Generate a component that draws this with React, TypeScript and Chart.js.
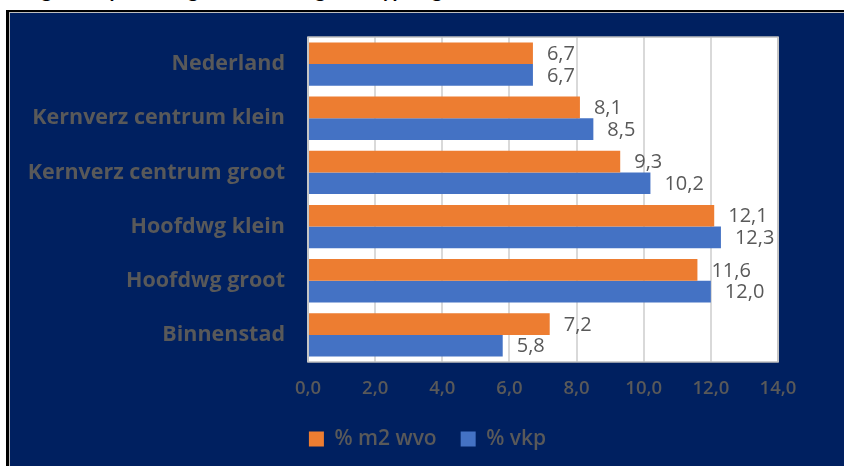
import React, { useEffect, useRef } from "react";
import { Chart, registerables } from "chart.js";

Chart.register(...registerables);

const titleText = "Leegstandspercentage naar winkelgebiedtypologie";
const categories = [
  "Nederland",
  "Kernverz centrum klein",
  "Kernverz centrum groot",
  "Hoofdwg klein",
  "Hoofdwg groot",
  "Binnenstad",
];
const seriesNames = ["% m2 wvo", "% vkp"];
const m2Wvo = [6.7, 8.1, 9.3, 12.1, 11.6, 7.2];
const vkp = [6.7, 8.5, 10.2, 12.3, 12.0, 5.8];
const xMin = 0;
const xMax = 14;
const xStep = 2;

const ORANGE = "#ED7D31";
const BLUE = "#4472C4";
const GRAY_TEXT = "#595959";
const NAVY = "#002060";

const fmt = (v: number) => v.toFixed(1).replace(".", ",");

const plotBg = {
  id: "plotBg",
  beforeDraw(chart: any) {
    const { ctx, chartArea: a } = chart;
    ctx.save();
    ctx.fillStyle = "#ffffff";
    ctx.fillRect(a.left, a.top, a.right - a.left, a.bottom - a.top);
    ctx.restore();
  },
  afterDatasetsDraw(chart: any) {
    const { ctx, chartArea: a } = chart;
    ctx.save();
    ctx.strokeStyle = "#bfbfbf";
    ctx.lineWidth = 1.5;
    ctx.strokeRect(a.left, a.top, a.right - a.left, a.bottom - a.top);
    ctx.restore();
  },
};

const dataLabels = {
  id: "dataLabels",
  afterDatasetsDraw(chart: any) {
    const { ctx } = chart;
    ctx.save();
    ctx.font = '20px "Open Sans"';
    ctx.fillStyle = GRAY_TEXT;
    ctx.textAlign = "left";
    ctx.textBaseline = "middle";
    chart.data.datasets.forEach((ds: any, i: number) => {
      const meta = chart.getDatasetMeta(i);
      meta.data.forEach((bar: any, j: number) => {
        ctx.fillText(fmt(ds.data[j]), bar.x + 14, bar.y + 1);
      });
    });
    ctx.restore();
  },
};

export default function App() {
  const ref = useRef<HTMLCanvasElement>(null);

  useEffect(() => {
    const chart = new Chart(ref.current as HTMLCanvasElement, {
      type: "bar",
      data: {
        labels: categories,
        datasets: [
          {
            label: seriesNames[0],
            data: m2Wvo,
            backgroundColor: ORANGE,
            borderWidth: 0,
            categoryPercentage: 0.8,
            barPercentage: 1.0,
          },
          {
            label: seriesNames[1],
            data: vkp,
            backgroundColor: BLUE,
            borderWidth: 0,
            categoryPercentage: 0.8,
            barPercentage: 1.0,
          },
        ],
      },
      options: {
        indexAxis: "y",
        animation: false,
        responsive: false,
        maintainAspectRatio: false,
        layout: { padding: { top: 24, bottom: 6.5, left: 0, right: 0 } },
        scales: {
          x: {
            type: "linear",
            min: xMin,
            max: xMax,
            ticks: {
              stepSize: xStep,
              color: GRAY_TEXT,
              padding: 16,
              font: { family: "Open Sans", size: 18.5, weight: 600 },
              callback: (v: any) => fmt(Number(v)),
            },
            grid: { color: "#d9d9d9", lineWidth: 2, drawTicks: false },
            border: { display: false },
            afterFit: (s: any) => {
              s.height = 42.5;
              s.paddingLeft = 0;
              s.paddingRight = 0;
            },
          },
          y: {
            type: "category",
            ticks: {
              color: GRAY_TEXT,
              padding: 23,
              font: { family: "Open Sans", size: 21.5, weight: "bold" },
            },
            grid: { display: false, drawTicks: false },
            border: { display: false },
            afterFit: (s: any) => {
              s.width = 297;
              s.paddingTop = 0;
              s.paddingBottom = 0;
            },
          },
          yRight: {
            type: "linear",
            position: "right",
            display: true,
            ticks: { display: false },
            grid: { display: false, drawTicks: false },
            border: { display: false },
            afterFit: (s: any) => {
              s.width = 66;
              s.paddingTop = 0;
              s.paddingBottom = 0;
            },
          },
        },
        plugins: {
          legend: {
            position: "bottom",
            labels: {
              boxWidth: 15,
              boxHeight: 15,
              padding: 24,
              color: GRAY_TEXT,
              font: { family: "Open Sans", size: 21, weight: 600 },
            },
          },
          tooltip: { enabled: false },
          title: { display: false },
        },
      } as any,
      plugins: [plotBg, dataLabels],
    });
    return () => chart.destroy();
  }, []);

  return (
    <div
      style={{
        position: "fixed",
        left: 0,
        top: 0,
        width: 844,
        height: 466,
        overflow: "hidden",
        background: "#ffffff",
      }}
    >
      <div
        style={{
          position: "absolute",
          left: 10,
          top: -21,
          font: "bold 20px Lato",
          lineHeight: "20px",
          whiteSpace: "nowrap",
          color: "#000",
        }}
      >
        {titleText}
      </div>
      <div style={{ position: "absolute", left: 6, top: 10, width: 900, height: 500, background: "#000" }} />
      <div style={{ position: "absolute", left: 9, top: 12, width: 900, height: 500, background: "#bfbfbf" }} />
      <div style={{ position: "absolute", left: 10, top: 13, width: 900, height: 500, background: NAVY }} />
      <canvas
        ref={ref}
        width={833}
        height={453}
        style={{ position: "absolute", left: 11, top: 13, width: 833, height: 453 }}
      />
    </div>
  );
}
